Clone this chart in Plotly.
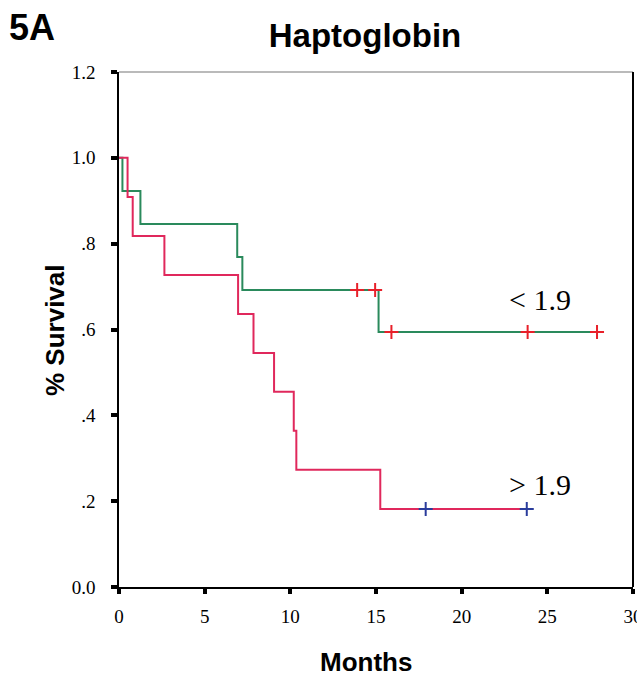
import plotly.graph_objects as go

# Data
green_t = [0, 0.2, 1.25, 6.9, 7.2, 15.15, 28]
green_s = [1.0, 0.923, 0.846, 0.769, 0.692, 0.594, 0.594]
green_cens_t = [13.9, 14.95, 15.9, 23.85, 27.9]
green_cens_s = [0.692, 0.692, 0.594, 0.594, 0.594]

red_t = [0, 0.5, 0.8, 2.65, 6.95, 7.85, 9.05, 10.2, 10.35, 15.25, 24]
red_s = [1.0, 0.909, 0.818, 0.727, 0.636, 0.545, 0.455, 0.364, 0.273, 0.182, 0.182]
red_cens_t = [17.9, 23.8]
red_cens_s = [0.182, 0.182]

x_ticks = [0, 5, 10, 15, 20, 25, 30]
y_ticks = [0, 0.2, 0.4, 0.6, 0.8, 1.0, 1.2]
y_ticktext = ["0.0", ".2", ".4", ".6", ".8", "1.0", "1.2"]

GREEN = "#2a8a5c"
RED = "#e0285c"

fig = go.Figure()
fig.add_trace(go.Scatter(x=green_t, y=green_s, mode="lines", line_shape="hv",
                         line=dict(color=GREEN, width=2), showlegend=False))
fig.add_trace(go.Scatter(x=red_t, y=red_s, mode="lines", line_shape="hv",
                         line=dict(color=RED, width=2), showlegend=False))
fig.add_trace(go.Scatter(x=green_cens_t, y=green_cens_s, mode="markers",
                         marker=dict(symbol="cross-thin", size=10,
                                     line=dict(color="#e8202a", width=2)),
                         showlegend=False))
fig.add_trace(go.Scatter(x=red_cens_t, y=red_cens_s, mode="markers",
                         marker=dict(symbol="cross-thin", size=10,
                                     line=dict(color="#2a3c9c", width=2)),
                         showlegend=False))

fig.add_annotation(x=24.6, y=0.669, text="< 1.9", showarrow=False,
                   font=dict(family="Liberation Serif", size=30, color="black"))
fig.add_annotation(x=24.6, y=0.238, text="> 1.9", showarrow=False,
                   font=dict(family="Liberation Serif", size=30, color="black"))

fig.add_annotation(xref="paper", yref="paper", x=-0.218, y=1.087, xanchor="left",
                   yanchor="middle", text="<b>5A</b>", showarrow=False,
                   font=dict(family="Liberation Sans", size=36, color="black"))
fig.add_annotation(xref="paper", yref="paper", x=0.48, y=-0.146,
                   yanchor="middle", text="<b>Months</b>", showarrow=False,
                   font=dict(family="Liberation Sans", size=26, color="black"))
fig.add_annotation(xref="paper", yref="paper", x=-0.1576, y=0.499,
                   textangle=-90, text="<b>% Survival</b>", showarrow=False,
                   font=dict(family="Liberation Sans", size=26, color="black"))

# frame top and right
fig.add_shape(type="line", xref="paper", yref="paper", x0=0, x1=1, y0=1, y1=1,
              line=dict(color="#777777", width=1.2))
fig.add_shape(type="line", xref="paper", yref="paper", x0=1, x1=1, y0=0, y1=1,
              line=dict(color="black", width=2))

fig.update_layout(
    width=637, height=677,
    margin=dict(l=119, r=4, t=72, b=90),
    paper_bgcolor="white", plot_bgcolor="white",
    title=dict(text="<b>Haptoglobin</b>", x=0.573, xanchor="center", y=0.948,
               yanchor="middle",
               font=dict(family="Liberation Sans", size=33, color="black")),
    xaxis=dict(range=[0, 30], tickvals=x_ticks, showgrid=False, zeroline=False,
               showline=True, linecolor="black", linewidth=2, automargin=False,
               ticks="outside", ticklen=5, tickwidth=4, tickcolor="black",
               ticklabeloverflow="allow", ticklabelstandoff=6,
               tickfont=dict(family="Liberation Serif", size=19, color="black")),
    yaxis=dict(range=[0, 1.2], tickvals=y_ticks, ticktext=y_ticktext,
               showgrid=False, zeroline=False, automargin=False,
               showline=True, linecolor="black", linewidth=1.5,
               ticks="outside", ticklen=6, tickwidth=4, tickcolor="black",
               ticklabelstandoff=12,
               tickfont=dict(family="Liberation Serif", size=19, color="black")),
)

fig.write_html("out.html", config={"displayModeBar": False},
               post_script="document.body.style.margin='0';")
